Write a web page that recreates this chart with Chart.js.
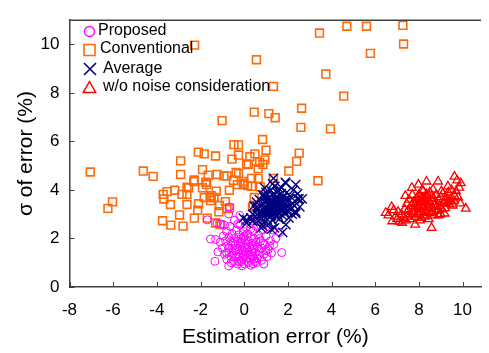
<!DOCTYPE html>
<html><head><meta charset="utf-8">
<script src="https://cdn.jsdelivr.net/npm/chart.js@4/dist/chart.umd.min.js"></script>
<style>html,body{margin:0;padding:0;background:#fff}#wrap{width:489px;height:353px}</style>
</head><body><div id="wrap"><canvas id="c" width="489" height="353"></canvas></div>
<script>
const seriesLabels = ['Proposed', 'Conventional', 'Average', 'w/o noise consideration'];
const xTicks = [-8, -6, -4, -2, 0, 2, 4, 6, 8, 10];
const yTicks = [0, 2, 4, 6, 8, 10];

const proposed = [[-1.69,2.77],[-1.54,1.98],[-1.31,1.96],[-1.34,1.06],[-1.24,2.64],[-1.06,2.60],[-0.71,3.01],[-0.68,3.30],[0.41,3.36],[1.72,1.42],[1.16,1.69],[1.64,2.25],[1.31,2.35],[-0.71,0.87],[-0.11,0.87],[0.41,0.96],
[-1.1,1.85],[-1.0,1.6],[-0.95,2.1],[-0.9,1.35],[-0.85,1.9],[-0.8,2.3],[-0.8,1.15],[-0.75,1.7],[-0.7,2.05],[-0.7,1.45],[-0.65,2.5],[-0.6,1.25],[-0.6,1.85],[-0.55,2.2],[-0.55,1.6],[-0.5,1.05],[-0.5,1.4],[-0.45,2.0],[-0.45,2.75],[-0.4,1.75],[-0.4,1.2],[-0.35,2.35],[-0.35,1.55],[-0.3,0.95],[-0.3,1.9],[-0.25,2.15],[-0.25,1.35],[-0.2,1.7],[-0.2,2.55],[-0.15,1.1],[-0.15,2.0],[-0.1,1.5],[-0.1,1.85],[-0.05,2.3],[-0.05,1.25],[0.0,1.65],[0.0,2.1],[0.0,0.95],[0.05,1.45],[0.05,1.95],[0.1,2.45],[0.1,1.2],[0.1,1.75],[0.15,1.55],[0.15,2.2],[0.2,1.0],[0.2,1.35],[0.2,1.9],[0.25,2.6],[0.25,1.65],[0.3,1.15],[0.3,2.05],[0.35,1.45],[0.35,1.8],[0.4,2.3],[0.4,1.25],[0.45,1.6],[0.45,2.0],[0.5,1.05],[0.5,1.4],[0.55,1.85],[0.55,2.5],[0.6,1.2],[0.6,1.65],[0.65,2.15],[0.7,1.45],[0.75,1.9],[0.8,1.1],[0.8,1.6],[0.85,2.35],[0.9,1.35],[0.95,1.75],[1.0,2.1],[1.05,1.25],[1.1,1.55],[1.2,1.9],[1.25,1.4],[1.35,1.75],[1.45,2.0],[0.6,2.7],[0.2,2.8],[-0.2,2.95],[0.75,2.55],[-0.9,2.55],[-1.2,1.45],[-0.3,2.6],[0.3,0.9],[-0.6,1.0],[0.9,0.95],[0.0,1.3],[-0.1,1.05],[0.15,1.05],[-0.4,1.5],[0.35,1.55],[0.05,1.6],[-0.15,1.8],[0.25,1.3],[-0.5,1.8],[0.45,1.15],[-0.25,1.05],[0.65,1.3],[-0.05,2.05],[0.3,2.4],[-0.7,1.6],[1.0,1.5],[0.85,1.8],[0.1,1.4],[-0.35,1.25],[0.55,1.0],[-0.8,1.4],[0.4,1.7],[-0.2,1.25],[0.7,2.0]];

const conventional = [[-2.27,9.97],[-1.01,6.86],[-7.05,4.74],[-4.62,4.78],[-4.17,4.56],[-2.91,5.20],[-2.91,4.64],[-2.10,5.56],[-1.83,5.49],[-1.31,5.40],[-0.47,5.87],[-0.26,5.44],[-0.56,5.27],[-1.91,4.84],[-1.65,4.61],[-1.24,4.64],[-0.93,4.58],[-0.79,4.58],[-0.37,4.72],[-2.28,4.41],[-1.76,4.32],[-0.49,4.39],[-0.04,4.35],[0.11,5.07],
[4.70,10.75],[5.60,10.75],[7.27,10.79],[7.30,10.02],[3.45,10.47],[5.78,9.63],[0.56,9.37],[3.74,8.78],[1.34,8.27],[4.56,7.87],[2.63,7.37],[0.46,7.21],[1.13,7.15],[1.42,6.98],[2.60,6.58],[3.95,6.52],[0.84,6.08],[1.00,5.64],[2.52,5.52],[0.49,5.49],[2.40,5.18],[0.26,5.37],[0.95,5.24],[0.71,5.14],[0.19,5.05],[0.86,5.05],[0.64,4.88],[2.04,4.78],[-0.26,4.68],[3.38,4.38],[1.34,4.48],[0.34,4.48],[0.64,4.48],[-0.26,5.86],
[0.46,3.69],[0.38,3.30],[0.34,4.15],[0.74,4.13],[-6.03,3.51],[-6.24,3.24],[-3.71,3.82],[-3.68,3.63],[-3.53,3.93],[-3.38,3.40],[-3.18,3.99],[-2.85,3.82],[-2.62,3.82],[-2.62,3.40],[-2.54,4.09],[-2.96,2.97],[-3.74,2.73],[-3.36,2.55],[-2.80,2.51],[-2.28,2.84],[-2.13,3.17],[-2.09,3.43],[-1.91,4.09],[-1.83,3.69],[-1.72,4.22],[-1.56,3.69],[-1.54,3.56],[-1.28,3.95],[-1.38,3.69],[-1.13,3.36],[-0.86,3.52],[-0.67,3.26],[-0.68,3.99],[-1.16,3.10],[-1.69,2.84],[-1.31,2.64],[-0.31,4.22],[-0.01,4.26],[0.16,4.18],[-2.31,4.35],[-1.11,2.57],[-0.79,3.23],[-2.62,4.11],[-1.51,3.76],[-0.04,4.22]];

const average = [[-0.04,2.84],[0.11,2.77],[0.38,2.71],[0.11,2.64],[0.79,2.44],[0.86,2.51],[1.24,2.38],[1.39,2.44],[1.76,2.25],[1.91,2.57],[2.36,3.03],[2.36,3.10],[2.51,3.63],[2.66,3.63],[2.44,3.63],[2.36,4.22],[1.91,4.28],[1.88,4.32],[1.34,4.48],[0.94,4.09],[0.56,3.50],[0.56,3.17],[0.71,3.10],
[0.4,3.0],[0.5,2.9],[0.6,3.3],[0.65,2.75],[0.7,3.6],[0.75,3.0],[0.8,3.4],[0.8,2.85],[0.85,3.8],[0.9,3.15],[0.9,2.65],[0.95,3.5],[1.0,3.0],[1.0,3.3],[1.0,3.9],[1.05,2.8],[1.05,3.6],[1.1,3.2],[1.1,3.45],[1.1,2.6],[1.15,3.7],[1.15,3.05],[1.2,3.35],[1.2,2.9],[1.2,4.0],[1.25,3.55],[1.25,3.15],[1.3,3.3],[1.3,2.75],[1.3,3.8],[1.35,3.45],[1.35,3.0],[1.4,3.6],[1.4,3.2],[1.4,4.15],[1.45,3.35],[1.45,2.9],[1.5,3.7],[1.5,3.1],[1.5,3.5],[1.55,3.25],[1.55,3.95],[1.6,3.4],[1.6,2.8],[1.65,3.6],[1.65,3.15],[1.7,3.3],[1.7,3.85],[1.75,3.5],[1.75,2.95],[1.8,3.2],[1.8,3.7],[1.85,3.4],[1.9,3.05],[1.9,3.6],[1.95,3.9],[2.0,3.3],[2.0,3.5],[2.05,2.85],[2.1,3.75],[2.15,3.2],[2.2,3.45],[2.25,4.0],[2.3,3.35],[1.0,3.15],[1.2,3.1],[1.3,3.55],[1.45,3.45],[1.6,3.05],[1.35,3.25],[1.25,3.4],[1.55,3.55],[1.15,3.3],[1.7,3.15],[1.4,3.0],[1.5,3.3],[1.1,3.6],[0.95,3.25],[1.85,3.25],[1.6,3.65],[1.3,3.1],[1.2,3.5],[1.45,3.7],[1.65,3.45],[1.05,3.4],[1.35,3.85],[1.75,3.35],[0.85,3.05],[1.55,2.95],[1.25,2.95],[1.9,3.45],[2.05,3.6],[0.7,2.9],[0.9,3.7],[1.6,4.05],[1.1,2.95],[1.4,3.4],[1.5,3.9],[1.8,3.55],[1.0,3.75],[0.6,3.0],[2.2,3.0],[1.95,3.15],[1.3,4.25],[1.7,4.1],[0.3,2.85],[0.45,3.35],[2.45,3.85],[2.55,3.3]];

const noNoise = [[6.48,3.06],[6.85,3.17],[6.93,2.90],[6.78,2.71],[7.23,2.64],[7.38,3.76],[7.68,4.09],[7.98,4.22],[8.35,4.35],[8.88,4.35],[9.63,4.55],[9.92,4.28],[10.15,3.23],[9.55,3.36],[9.18,3.03],[8.58,2.44],[7.83,2.57],[9.63,3.76],[9.33,4.15],[9.03,3.95],[8.65,4.02],[8.35,3.82],[7.45,3.43],[8.05,3.56],[8.20,3.30],[7.75,3.03],[7.45,2.90],[8.28,2.90],[8.80,3.30],[9.18,3.56],[9.40,3.43],
[6.6,2.95],[6.75,3.3],[7.0,2.8],[7.05,3.1],[7.1,2.7],[7.2,3.0],[7.3,2.85],[7.35,3.2],[7.5,3.15],[7.55,3.6],[7.6,2.8],[7.65,3.35],[7.7,3.8],[7.75,3.5],[7.8,3.2],[7.85,2.9],[7.9,3.65],[7.9,3.4],[7.95,3.0],[8.0,3.8],[8.0,3.25],[8.05,2.75],[8.1,3.45],[8.1,3.1],[8.15,3.65],[8.15,4.0],[8.2,3.5],[8.25,2.95],[8.3,3.4],[8.3,3.15],[8.35,3.65],[8.4,3.3],[8.45,2.8],[8.45,3.55],[8.5,3.05],[8.5,3.9],[8.55,3.4],[8.6,3.2],[8.65,3.65],[8.7,2.95],[8.75,3.5],[8.8,3.8],[8.85,3.15],[8.9,3.6],[8.95,3.35],[9.0,3.7],[9.05,3.2],[9.1,3.85],[9.15,3.45],[9.2,3.25],[9.25,3.7],[9.3,3.5],[9.35,3.9],[9.45,3.6],[9.5,4.0],[9.6,3.55],[9.7,3.95],[9.75,4.4],[9.8,3.7],[9.85,4.1],[9.9,3.45],[8.0,3.0],[8.25,3.6],[8.4,3.05],[7.95,3.3],[8.1,2.85],[8.35,3.5],[8.55,3.1],[7.85,3.45],[8.15,3.35],[8.6,3.75],[7.7,3.1],[8.05,3.7],[8.45,3.25],[7.6,3.0],[9.0,3.0],[8.7,3.4],[7.4,2.75],[8.9,2.95],[8.2,3.95]];

const colors = ['#FF00FF', '#FF6A0A', '#000080', '#FF0000'];
const FONT = "'Liberation Sans', Arial, sans-serif";
const AXIS = '#404040';

function toPts(a) { return a.map(p => ({x: p[0], y: p[1]})); }

const axisExtras = {
  id: 'axisExtras',
  afterDraw(chart) {
    const ctx = chart.ctx, a = chart.chartArea;
    const xs = chart.scales.x, ys = chart.scales.y;
    ctx.save();
    ctx.strokeStyle = AXIS;
    ctx.lineWidth = 1.5;
    ctx.beginPath();
    ctx.moveTo(a.left, a.top); ctx.lineTo(a.right, a.top);
    ctx.stroke();
    ctx.lineWidth = 1;
    ctx.beginPath();
    xTicks.forEach(v => { const px = Math.round(xs.getPixelForValue(v)) + 0.5; ctx.moveTo(px, a.bottom); ctx.lineTo(px, a.bottom - 5); });
    yTicks.forEach(v => { const py = Math.round(ys.getPixelForValue(v)) + 0.5; ctx.moveTo(a.left, py); ctx.lineTo(a.left + 5, py); });
    ctx.stroke();
    // legend
    const rows = [
      {mx: 89.5, my: 31.5, tx: 98, ty: 30.5},
      {mx: 89.5, my: 50, tx: 100, ty: 48.5},
      {mx: 90, my: 69, tx: 103, ty: 68.5},
      {mx: 89.5, my: 87.5, tx: 103, ty: 86.5}
    ];
    rows.forEach((r, i) => {
      ctx.strokeStyle = colors[i];
      ctx.beginPath();
      if (i === 0) { ctx.lineWidth = 1.3; ctx.arc(r.mx, r.my, 5, 0, Math.PI * 2); }
      else if (i === 1) { ctx.lineWidth = 1.6; ctx.rect(r.mx - 5.5, r.my - 5.5, 11, 11); }
      else if (i === 2) { ctx.lineWidth = 1.6; ctx.moveTo(r.mx - 6, r.my - 6); ctx.lineTo(r.mx + 6, r.my + 6); ctx.moveTo(r.mx + 6, r.my - 6); ctx.lineTo(r.mx - 6, r.my + 6); }
      else { ctx.lineWidth = 1.5; ctx.moveTo(r.mx, r.my - 6); ctx.lineTo(r.mx + 6.2, r.my + 5); ctx.lineTo(r.mx - 6.2, r.my + 5); ctx.closePath(); }
      ctx.stroke();
      ctx.fillStyle = '#000';
      ctx.font = "16px " + FONT;
      ctx.textBaseline = 'middle';
      ctx.textAlign = 'left';
      ctx.fillText(seriesLabels[i], r.tx, r.ty);
    });
    ctx.restore();
  }
};

new Chart(document.getElementById('c'), {
  type: 'scatter',
  data: {
    datasets: [
      {label: seriesLabels[0], data: toPts(proposed), pointStyle: 'circle', pointRadius: 4, borderColor: colors[0], backgroundColor: 'rgba(0,0,0,0)', borderWidth: 1, order: 3},
      {label: seriesLabels[1], data: toPts(conventional), pointStyle: 'rect', pointRadius: 5.5, borderColor: colors[1], backgroundColor: 'rgba(0,0,0,0)', borderWidth: 1.6, order: 4},
      {label: seriesLabels[2], data: toPts(average), pointStyle: 'crossRot', pointRadius: 6.5, borderColor: colors[2], backgroundColor: 'rgba(0,0,0,0)', borderWidth: 1.4, order: 2},
      {label: seriesLabels[3], data: toPts(noNoise), pointStyle: 'triangle', pointRadius: 5, borderColor: colors[3], backgroundColor: 'rgba(0,0,0,0)', borderWidth: 1.3, order: 1}
    ]
  },
  options: {
    responsive: false,
    animation: false,
    devicePixelRatio: 1,
    layout: {padding: {top: 7, right: 0, left: 0, bottom: 0}},
    plugins: {legend: {display: false}, tooltip: {enabled: false}},
    scales: {
      x: {
        type: 'linear', min: -8, max: 10.85,
        afterFit: s => { s.height = 66; },
        afterBuildTicks: s => { s.ticks = xTicks.map(v => ({value: v})); },
        ticks: {font: {family: FONT, size: 17}, color: '#000', padding: 13, maxRotation: 0, autoSkip: false},
        grid: {display: false, drawTicks: false},
        border: {display: true, color: AXIS, width: 1.5},
        title: {display: true, text: 'Estimation error (%)', font: {family: FONT, size: 21}, color: '#000', padding: {top: 0, bottom: 3}}
      },
      y: {
        type: 'linear', min: 0, max: 11,
        afterFit: s => { s.width = 69.5; },
        afterBuildTicks: s => { s.ticks = yTicks.map(v => ({value: v})); },
        ticks: {font: {family: FONT, size: 17}, color: '#000', padding: 10, autoSkip: false},
        grid: {display: false, drawTicks: false},
        border: {display: true, color: AXIS, width: 1.5},
        title: {display: true, text: 'σ of error (%)', font: {family: FONT, size: 21}, color: '#000', padding: {top: 14, bottom: 0}}
      }
    }
  },
  plugins: [axisExtras]
});
</script>
</body></html>
